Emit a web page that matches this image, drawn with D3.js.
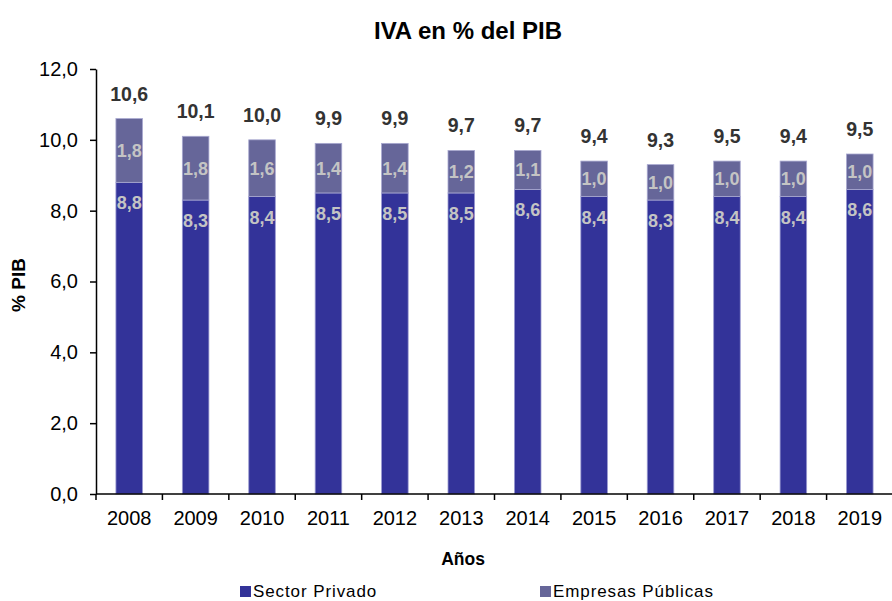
<!DOCTYPE html>
<html><head><meta charset="utf-8">
<script src="https://cdn.jsdelivr.net/npm/d3@7"></script>
<style>body{margin:0;background:#fff}svg{font-family:"Liberation Sans",Arial,sans-serif}</style>
</head><body><svg id="c" width="892" height="601"></svg>
<script>
const years = ["2008","2009","2010","2011","2012","2013","2014","2015","2016","2017","2018","2019"];
const privado = [8.8,8.3,8.4,8.5,8.5,8.5,8.6,8.4,8.3,8.4,8.4,8.6];
const publicas = [1.8,1.8,1.6,1.4,1.4,1.2,1.1,1.0,1.0,1.0,1.0,1.0];
const totales = [10.6,10.1,10.0,9.9,9.9,9.7,9.7,9.4,9.3,9.5,9.4,9.5];
const yTicks = [0,2,4,6,8,10,12];
const seriesNames = ["Sector Privado","Empresas Públicas"];
const colors = ["#333399","#666699"];

const svg = d3.select("#c");
const m = {l:96};
const x = d3.scaleBand().domain(years).range([m.l, 893]).paddingInner(0.6).paddingOuter(0.3);
const y = d3.scaleLinear().domain([0,12]).range([494, 69]);
const fmt = v => d3.format(".1f")(v).replace(".", ",");
const FF = "Liberation Sans, Arial, sans-serif";

// title
svg.append("text").attr("x",468).attr("y",39).attr("text-anchor","middle")
  .attr("font-weight","bold").attr("font-size",24).attr("fill","#000").text("IVA en % del PIB");

// bars
const data = years.map((yr,i)=>({yr, p:privado[i], e:publicas[i], t:totales[i]}));
const g = svg.append("g");
g.selectAll(".bp").data(data).join("rect")
  .attr("x",d=>x(d.yr)).attr("width",x.bandwidth())
  .attr("y",d=>y(d.p)).attr("height",d=>y(0)-y(d.p))
  .attr("fill",colors[0]).attr("stroke","#9a9ad0").attr("stroke-width",0.8);
g.selectAll(".be").data(data).join("rect")
  .attr("x",d=>x(d.yr)).attr("width",x.bandwidth())
  .attr("y",d=>y(d.p+d.e)).attr("height",d=>y(d.p)-y(d.p+d.e))
  .attr("fill",colors[1]).attr("stroke","#a8a8d0").attr("stroke-width",0.8);

// segment labels
g.selectAll(".lp").data(data).join("text")
  .attr("x",d=>x(d.yr)+x.bandwidth()/2).attr("y",d=>y(d.p)+27)
  .attr("text-anchor","middle").attr("font-weight","bold").attr("font-size",18)
  .attr("fill","#c4c4c4").text(d=>fmt(d.p));
g.selectAll(".le").data(data).join("text")
  .attr("x",d=>x(d.yr)+x.bandwidth()/2).attr("y",d=>(y(d.p)+y(d.p+d.e))/2+6.5)
  .attr("text-anchor","middle").attr("font-weight","bold").attr("font-size",18)
  .attr("fill","#c4c4c4").text(d=>fmt(d.e));
g.selectAll(".lt").data(data).join("text")
  .attr("x",d=>x(d.yr)+x.bandwidth()/2).attr("y",d=>y(d.p+d.e)-18)
  .attr("text-anchor","middle").attr("font-weight","bold").attr("font-size",19.5)
  .attr("fill","#333").text(d=>fmt(d.t));

// y axis
const ya = svg.append("g").attr("transform",`translate(${m.l},0)`)
  .call(d3.axisLeft(y).tickValues(yTicks).tickFormat(fmt).tickSize(6).tickSizeOuter(0).tickPadding(12));
ya.select(".domain").attr("stroke","#000").attr("stroke-width",1.5);
ya.selectAll(".tick line").attr("stroke","#000").attr("stroke-width",1.5);
ya.selectAll("text").attr("font-size",20).attr("fill","#000").attr("font-family",FF);

// x axis
const xa = svg.append("g").attr("transform",`translate(0,${y(0)})`)
  .call(d3.axisBottom(x).tickSize(0).tickPadding(17));
xa.select(".domain").remove();
xa.append("line").attr("x1",m.l).attr("x2",892).attr("stroke","#000").attr("stroke-width",1.5);
const step = x.step();
const bounds = d3.range(years.length).map(i => x(years[0]) - x.paddingOuter()*step + i*step);
xa.selectAll(".bt").data(bounds).join("line").attr("x1",d=>d).attr("x2",d=>d)
  .attr("y1",0).attr("y2",6).attr("stroke","#000").attr("stroke-width",1.5);
xa.selectAll("text").attr("font-size",20).attr("fill","#000").attr("font-family",FF);

// axis titles
svg.append("text").attr("x",463).attr("y",565).attr("text-anchor","middle")
  .attr("font-weight","bold").attr("font-size",17.5).text("Años");
svg.append("text").attr("transform","translate(25,285) rotate(-90)").attr("text-anchor","middle")
  .attr("font-weight","bold").attr("font-size",19).text("% PIB");

// legend
const lx = [240, 540];
seriesNames.forEach((n,i)=>{
  svg.append("rect").attr("x",lx[i]).attr("y",586).attr("width",11).attr("height",11).attr("fill",colors[i]);
  svg.append("text").attr("x",lx[i]+13).attr("y",597).attr("font-size",17).attr("letter-spacing",0.9)
    .attr("fill","#000").text(n);
});
</script></body></html>
